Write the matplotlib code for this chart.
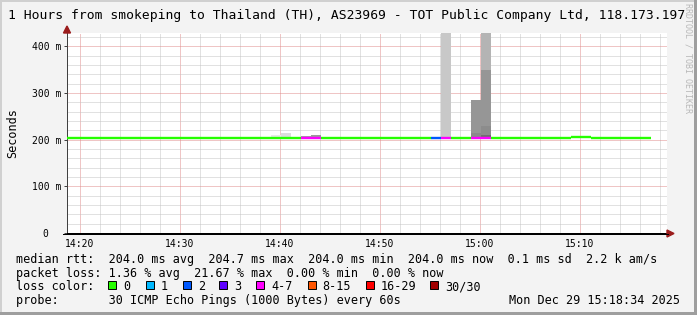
import numpy as np
import matplotlib.pyplot as plt
from matplotlib.patches import Rectangle, Polygon
from matplotlib.lines import Line2D

plt.rcParams['font.family'] = ['DejaVu Sans Mono', 'DejaVu Sans']

W, H = 697, 315  # image size in pixels

# one sample per minute; start of each bin in minutes after 14:00
bin_start = np.arange(59) + 18.1

# median rtt per bin (ms)
median_ms = [204.0] * 51 + [206.0] * 2 + [204.0] * 6

# lost pings (out of 30) per bin
loss_pings = [0] * 59
for b, v in {24: 4, 25: 4, 37: 2, 38: 4, 41: 4, 42: 6.5}.items():
    loss_pings[b] = v

# smoke bands: bin index, low / high rtt (ms), grey shade
smoke_bin = [21, 22, 24, 25, 38, 41, 41, 42, 42, 42, 42]
smoke_lo = [203, 203, 203, 203, 203, 203, 203, 203, 210, 229, 349]
smoke_hi = [209.5, 214, 207.5, 210, 440, 284, 214, 210, 229, 349, 440]
smoke_grey = ['#e8e8e8', '#dcdcdc', '#a0a0a0', '#9a9a9a', '#c8c8c8', '#969696',
              '#8a8a8a', '#707070', '#8c8c8c', '#969696', '#b4b4b4']

# loss colour legend
loss_labels = ['0', '1', '2', '3', '4-7', '8-15', '16-29', '30/30']
loss_colors = ['#26ff00', '#00b8ff', '#0059ff', '#5e00ff', '#ff00ff',
               '#ff5500', '#ff0000', '#a10000']
loss_edges = [0, 1, 2, 3, 4, 8, 16, 30]

xtick_min = [20, 30, 40, 50, 60, 70]
xtick_labels = ['14:20', '14:30', '14:40', '14:50', '15:00', '15:10']
ytick_ms = [0, 100, 200, 300, 400]
ytick_labels = ['0  ', '100 m', '200 m', '300 m', '400 m']

title = '1 Hours from smokeping to Thailand (TH), AS23969 - TOT Public Company Ltd, 118.173.197'
legend_rows = [
    'median rtt:  204.0 ms avg  204.7 ms max  204.0 ms min  204.0 ms now  0.1 ms sd  2.2 k am/s',
    'packet loss: 1.36 % avg  21.67 % max  0.00 % min  0.00 % now',
    'loss color:',
    'probe:       30 ICMP Echo Pings (1000 Bytes) every 60s',
]
stamp = 'Mon Dec 29 15:18:34 2025'


def fx(x):
    return x / W


def fy(y):
    return 1 - y / H


def loss_color(v):
    idx = 0
    for i, e in enumerate(loss_edges):
        if v >= e:
            idx = i
    return loss_colors[idx]


fig = plt.figure(figsize=(W / 100, H / 100), dpi=100)
fig.patch.set_facecolor('#f3f3f3')

ax = fig.add_axes([fx(67), fy(233), 600 / W, 200 / H])
ax.set_facecolor('white')
ax.set_xlim(18.7, 78.7)
ax.set_ylim(0, 428.5)

# grid (dotted, rrdtool style)
ax.set_xticks(xtick_min)
ax.set_xticklabels(xtick_labels)
ax.set_xticks(np.arange(20, 79, 2), minor=True)
ax.set_yticks(ytick_ms)
ax.set_yticklabels(ytick_labels)
ax.set_yticks(np.arange(0, 421, 20), minor=True)
ax.grid(which='minor', color='#c4c4c4', lw=0.72, ls=(0, (1, 1)))
ax.grid(which='major', color='#e08c8c', lw=0.72, ls=(0, (1, 1)))
ax.set_axisbelow(True)

# smoke
for b, lo, hi, g in zip(smoke_bin, smoke_lo, smoke_hi, smoke_grey):
    ax.bar(bin_start[b], hi - lo, bottom=lo, width=1.0, align='edge',
           color=g, linewidth=0, zorder=2)

# median line coloured by loss
ax.hlines(median_ms, bin_start, bin_start + 1,
          colors=[loss_color(v) for v in loss_pings], lw=1.7, zorder=3)

for s in ['top', 'right']:
    ax.spines[s].set_visible(False)
ax.spines['left'].set_color('#404040')
ax.spines['left'].set_linewidth(0.72)
ax.spines['bottom'].set_color('black')
ax.spines['bottom'].set_linewidth(0.72)
ax.tick_params(axis='x', which='both', length=0, pad=4.3, labelsize=7)
ax.tick_params(axis='y', which='major', length=2.2, width=0.72, color='#404040',
               pad=2.2, labelsize=7)
ax.tick_params(axis='y', which='minor', length=0)

ax.set_ylabel('Seconds', fontsize=8.45)
ax.yaxis.set_label_coords((19.5 - 67) / 600, 0.5)

# axis extensions and arrows
fig.add_artist(Line2D([fx(63), fx(668)], [fy(233.5), fy(233.5)], color='black',
                      lw=0.72, transform=fig.transFigure))
fig.add_artist(Polygon([(fx(63.5), fy(33)), (fx(70.5), fy(33)), (fx(67), fy(26))],
                       closed=True, color='#9b1c1c', transform=fig.transFigure))
fig.add_artist(Polygon([(fx(667), fy(230)), (fx(667), fy(237)), (fx(674), fy(233.5))],
                       closed=True, color='#9b1c1c', transform=fig.transFigure))

# title and watermark
fig.text(fx(8), fy(18.5), title, fontsize=9.4, ha='left', va='baseline', color='black')
fig.text(fx(688), fy(3), 'RRDTOOL / TOBI OETIKER', fontsize=6, rotation=-90,
         ha='center', va='top', color='#b8b8b8')

# legend text
row_base = [263, 276.7, 290.3, 304]
for txt, yb in zip(legend_rows, row_base):
    fig.text(fx(16), fy(yb), txt, fontsize=8.45, ha='left', va='baseline')
fig.text(fx(680), fy(row_base[3]), stamp, fontsize=8.45, ha='right', va='baseline')

box_x = [108.3, 145.7, 182.7, 219.3, 256, 307.7, 366, 430]
for bx, lab, col in zip(box_x, loss_labels, loss_colors):
    fig.add_artist(Rectangle((fx(bx), fy(289)), 8 / W, 8 / H, facecolor=col,
                             edgecolor='black', lw=0.7, transform=fig.transFigure))
    fig.text(fx(bx + 15), fy(row_base[2]), lab, fontsize=8.45, ha='left', va='baseline')

# image frame
for x0, y0, w, h, c in [(0, 0, 2, H, '#d0d0d0'), (0, 0, W, 2, '#d0d0d0'),
                        (W - 3, 0, 3, H, '#9e9e9e'), (0, H - 3, W, 3, '#9e9e9e')]:
    fig.add_artist(Rectangle((fx(x0), fy(y0 + h)), w / W, h / H, facecolor=c,
                             edgecolor='none', transform=fig.transFigure))

fig.savefig('out.png', dpi=100, facecolor=fig.get_facecolor())
